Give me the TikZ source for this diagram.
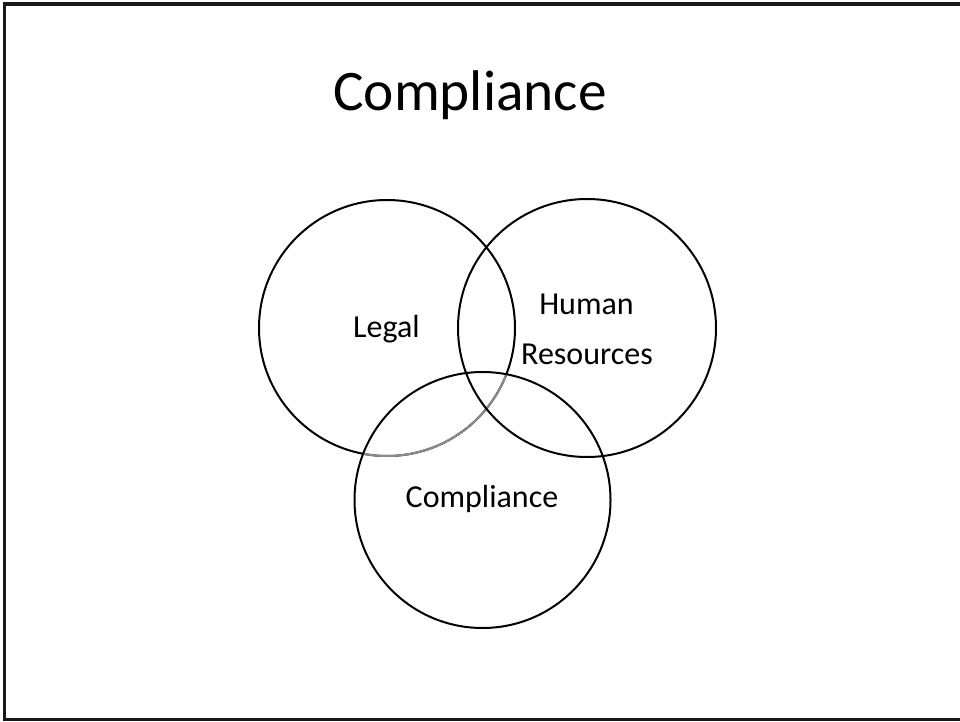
\documentclass[tikz,border=0pt]{standalone}
\usepackage{fontspec}
\setmainfont{Carlito}
\begin{document}
\begin{tikzpicture}[x=0.75pt,y=-0.75pt,
  ring/.style={line width=1.5pt,draw=black},
  frameline/.style={line width=2.3pt,draw=black!90},
  lbl/.style={anchor=base,inner sep=0pt,font=\fontsize{24}{29}\selectfont},
  ttl/.style={anchor=base,inner sep=0pt,font=\fontsize{43}{52}\selectfont}]
\useasboundingbox (0,0) rectangle (960,721);
\fill[white] (0,0) rectangle (960,721);
% frame (right side lies outside the picture)
\draw[frameline] (960,4) -- (4.5,4) -- (4.5,719.5) -- (960,719.5);
% circles
\coordinate (cL) at (387,328);
\coordinate (cH) at (587,328);
\coordinate (cC) at (482.5,500);
\draw[ring] (cL) circle[radius=128];
\begin{scope}
  \clip (cC) circle[radius=128];
  \draw[ring,draw=black!45] (cL) circle[radius=128];
\end{scope}
\draw[ring] (cH) circle[radius=129];
\draw[ring] (cC) circle[radius=128];
% texts
\node[ttl] (title) at (470,110) {Compliance};
\node[lbl] (legal) at (386.5,337) {Legal};
\node[lbl] (human) at (586.5,314) {Human};
\node[lbl] (resources) at (587,364) {Resources};
\node[lbl] (comp) at (482,507) {Compliance};
\end{tikzpicture}
\end{document}
